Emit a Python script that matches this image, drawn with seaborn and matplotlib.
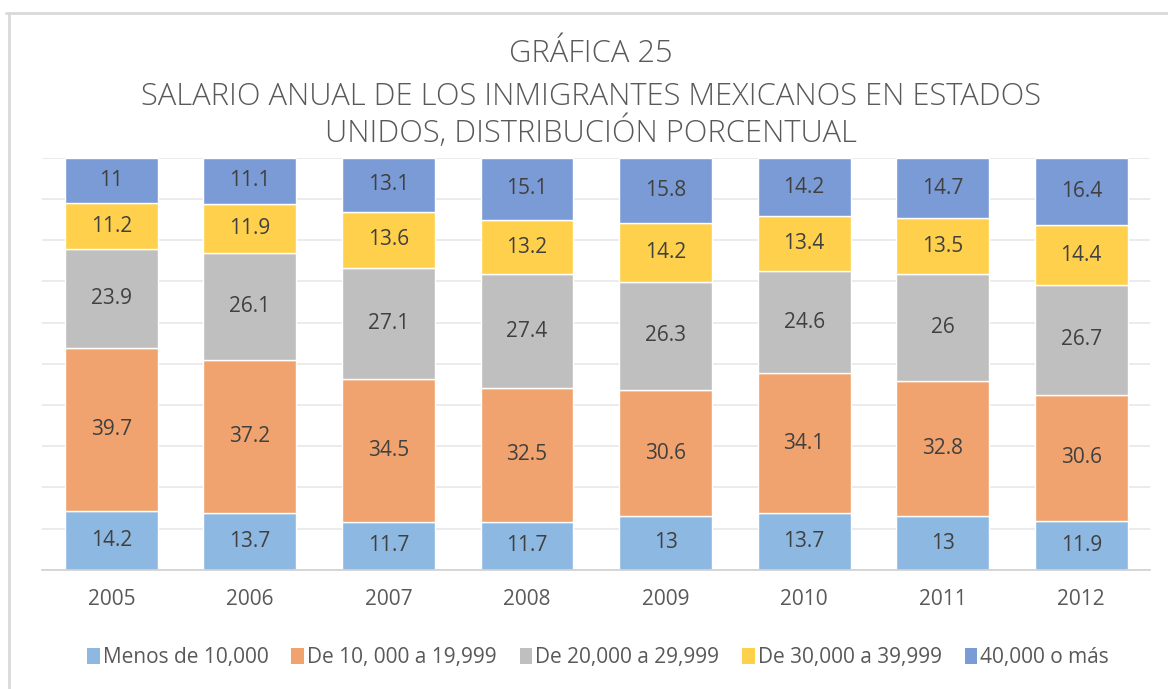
import numpy as np
import pandas as pd
import matplotlib.pyplot as plt
import seaborn as sns
from matplotlib.lines import Line2D
from matplotlib.patches import Patch

# data
years = ["2005", "2006", "2007", "2008", "2009", "2010", "2011", "2012"]
series_names = ["Menos de 10,000", "De 10, 000 a 19,999", "De 20,000 a 29,999",
                "De 30,000 a 39,999", "40,000 o más"]
menos_10k = [14.2, 13.7, 11.7, 11.7, 13, 13.7, 13, 11.9]
de_10k_20k = [39.7, 37.2, 34.5, 32.5, 30.6, 34.1, 32.8, 30.6]
de_20k_30k = [23.9, 26.1, 27.1, 27.4, 26.3, 24.6, 26, 26.7]
de_30k_40k = [11.2, 11.9, 13.6, 13.2, 14.2, 13.4, 13.5, 14.4]
mas_40k = [11, 11.1, 13.1, 15.1, 15.8, 14.2, 14.7, 16.4]

colors = ["#8DB8E2", "#F0A36E", "#BFBFBF", "#FFD04B", "#7A9BD6"]

raw = np.array([menos_10k, de_10k_20k, de_20k_30k, de_30k_40k, mas_40k], dtype=float)
# 100% stacked: normalise each year
pct = raw / raw.sum(axis=0) * 100

sns.set_theme(style="white")
plt.rcParams['font.family'] = ['Open Sans', 'DejaVu Sans']

fig, ax = plt.subplots(figsize=(11.68, 6.89), dpi=100)
fig.subplots_adjust(left=0.036, right=0.985, bottom=0.173, top=0.771)

bottom = np.zeros(len(years))
for i, name in enumerate(series_names):
    df = pd.DataFrame({"year": years, "value": pct[i]})
    sns.barplot(data=df, x="year", y="value", color=colors[i], width=0.67,
                bottom=bottom, ax=ax, saturation=1, zorder=2)
    for j in range(len(years)):
        ax.text(j, bottom[j] + pct[i][j] / 2, f"{raw[i][j]:g}", ha="center",
                va="center", fontsize=15, color="#404040", zorder=3)
    bottom = bottom + pct[i]

ax.set_ylim(0, 100)
ax.set_xlim(-0.5, len(years) - 0.5)
ax.set_yticks(np.arange(0, 101, 10))
ax.set_yticklabels([])
ax.yaxis.grid(True, color="#E8E8E8", linewidth=1.2, zorder=0)
ax.set_axisbelow(True)
ax.set_xlabel("")
ax.set_ylabel("")
ax.tick_params(axis="x", labelsize=15, labelcolor="#595959", length=0, pad=14)
ax.tick_params(axis="y", length=0)
for s in ["top", "right", "left"]:
    ax.spines[s].set_visible(False)
ax.spines["bottom"].set_color("#D0D0D0")
ax.spines["bottom"].set_linewidth(1.2)

title_lines = ["GRÁFICA 25",
               "SALARIO ANUAL DE LOS INMIGRANTES MEXICANOS EN ESTADOS",
               "UNIDOS, DISTRIBUCIÓN PORCENTUAL"]
for line, y in zip(title_lines, [0.922, 0.859, 0.806]):
    fig.text(0.506, y, line, ha="center", va="center", fontsize=22.2,
             color="#595959", fontweight="light")

handles = [Patch(facecolor=c, edgecolor="none") for c in colors]
fig.legend(handles, series_names, loc="center", bbox_to_anchor=(0.512, 0.046),
           ncol=5, frameon=False, fontsize=15, handlelength=0.6, handleheight=0.8,
           handletextpad=0.15, columnspacing=1.1, labelcolor="#595959")

# chart border
fig.add_artist(Line2D([0.005, 1.0], [0.981, 0.981], transform=fig.transFigure,
                      color="#D9D9D9", linewidth=2))
fig.add_artist(Line2D([0.008, 0.008], [0.0, 0.981], transform=fig.transFigure,
                      color="#D9D9D9", linewidth=2))

fig.savefig("out.png", dpi=100)
